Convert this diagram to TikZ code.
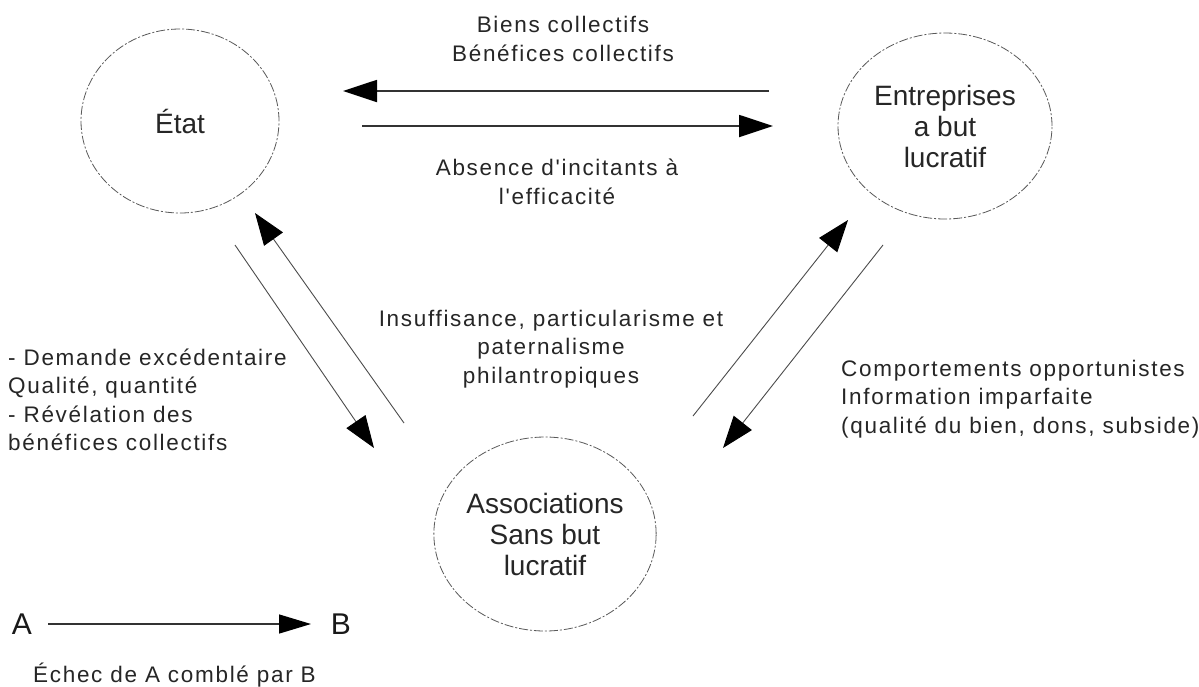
\documentclass[tikz,border=0pt]{standalone}
\usepackage{fontspec}
\setmainfont{Liberation Sans}
\newfontfamily\spacedfont[LetterSpace=7.5]{Liberation Sans}
\usetikzlibrary{arrows.meta,shapes.geometric}
\begin{document}
\begin{tikzpicture}[x=1pt,y=-1pt,
  txt/.style={font=\spacedfont\fontsize{22.5}{28.5}\selectfont, text=black!85, inner sep=0pt},
  legendletter/.style={font=\fontsize{30}{31}\selectfont, text=black!90, inner sep=0pt},
  actor/.style={ellipse, draw=black!65, line width=0.8pt,
     dash pattern=on 9pt off 2pt on 2pt off 2pt, inner sep=0pt, align=center,
     font=\fontsize{28}{31}\selectfont, text=black!85},
  flow/.style={draw=black!80, line width=1.8pt, -{Triangle[length=34pt,width=22pt,fill=black,color=black]}},
  diag/.style={draw=black!70, line width=0.9pt, -{Triangle[length=32pt,width=23pt,fill=black,color=black]}},
]
\useasboundingbox[fill=white] (0,0) rectangle (1199,686);

% actors
\node[actor, minimum width=198pt, minimum height=184pt] (etat) at (180,121) {État};
\node[actor, minimum width=214pt, minimum height=186pt] (entr) at (945,126) {Entreprises\\a but\\lucratif};
\node[actor, minimum width=220pt, minimum height=194pt] (asbl) at (545,534) {Associations\\Sans but\\lucratif};

% end points of the connectors
\coordinate (ea1) at (769,91);
\coordinate (ea2) at (343,91);
\coordinate (ae1) at (362,126);
\coordinate (ae2) at (773,126);
\coordinate (es1) at (235,245);
\coordinate (es2) at (374,448);
\coordinate (se1) at (404,423);
\coordinate (se2) at (255,213);
\coordinate (sn1) at (693,416);
\coordinate (sn2) at (848,220);
\coordinate (ns1) at (883,245);
\coordinate (ns2) at (723,448);

\draw[flow] (ea1) -- (ea2);
\draw[flow] (ae1) -- (ae2);
\draw[diag] (es1) -- (es2);
\draw[diag] (se1) -- (se2);
\draw[diag] (sn1) -- (sn2);
\draw[diag] (ns1) -- (ns2);

% labels
\node[txt, align=center] (lbl1) at (563,39) {Biens collectifs\\Bénéfices collectifs};
\node[txt, align=center] (lbl2) at (557,182) {Absence d'incitants à\\l'efficacité};
\node[txt, align=center] (lbl3) at (551,349) {Insuffisance, particularisme et\\paternalisme\\philantropiques};
\node[txt, align=left, anchor=west] (lbl4) at (8,400) {- Demande excédentaire\\Qualité, quantité\\- Révélation des\\bénéfices collectifs};
\node[txt, align=left, anchor=west] (lbl5) at (841,399) {Comportements opportunistes\\Information imparfaite\\(qualité du bien, dons, subside)};

% legend
\node[legendletter] (la) at (22,624) {A};
\node[legendletter] (lb) at (341,624) {B};
\coordinate (lg1) at (48,624);
\coordinate (lg2) at (311,624);
\draw[flow, line width=1.4pt, -{Triangle[length=32pt,width=19pt,fill=black,color=black]}] (lg1) -- (lg2);
\node[txt, anchor=west] (lbl6) at (33,675) {Échec de A comblé par B};
\end{tikzpicture}
\end{document}
